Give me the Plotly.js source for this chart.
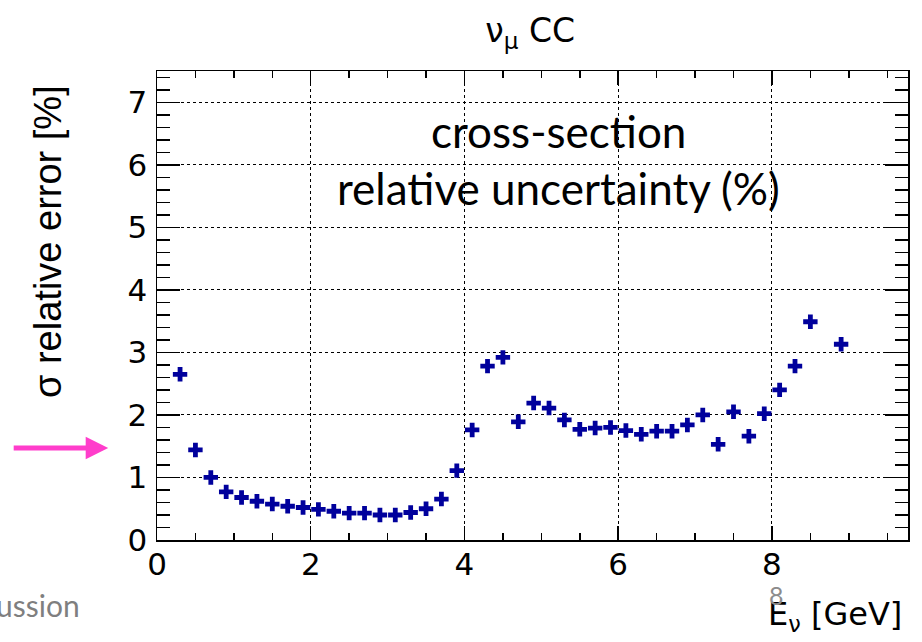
<!DOCTYPE html>
<html>
<head>
<meta charset="utf-8">
<script src="https://cdn.plot.ly/plotly-3.0.1.min.js"></script>
<style>html,body{margin:0;padding:0;background:#fff;}</style>
</head>
<body>
<div id="chart" style="width:922px;height:642px;"></div>
<script>
// Neutrino energy bin centres [GeV]
const energy = [0.3,0.5,0.7,0.9,1.1,1.3,1.5,1.7,1.9,2.1,2.3,2.5,2.7,2.9,3.1,3.3,3.5,3.7,3.9,
                4.1,4.3,4.5,4.7,4.9,5.1,5.3,5.5,5.7,5.9,6.1,6.3,6.5,6.7,6.9,7.1,7.3,7.5,7.7,7.9,
                8.1,8.3,8.5,8.9];
// sigma relative error [%]
const relError = [2.65,1.44,1.00,0.77,0.68,0.62,0.575,0.54,0.52,0.49,0.46,0.43,0.43,0.40,0.40,0.44,0.50,0.655,1.11,
                  1.76,2.78,2.92,1.89,2.19,2.11,1.92,1.77,1.79,1.80,1.75,1.69,1.74,1.74,1.84,2.00,1.53,2.05,1.66,2.02,
                  2.40,2.78,3.49,3.13];
const xTicks = [0,2,4,6,8];
const yTicks = [0,1,2,3,4,5,6,7];

const FONT = 'DejaVu Sans, Liberation Sans, Arial, sans-serif';
const FONT_TITLE = 'Liberation Sans, Arial, sans-serif';
const SLIDE = 'Lato, sans-serif';

const trace = {
  type: 'scatter', mode: 'markers',
  x: energy, y: relError,
  marker: {symbol: 'cross', size: 12, color: '#00009c', line: {width: 0}},
  hoverinfo: 'x+y'
};

const axisCommon = {
  showline: true, linecolor: '#000', linewidth: 1.5, mirror: 'allticks',
  ticks: 'inside', tickcolor: '#000', tickwidth: 1.5,
  showgrid: true, gridcolor: '#000', griddash: 'dot', gridwidth: 1,
  zeroline: false,
  tickfont: {family: FONT, size: 31, color: '#000'}
};

const layout = {
  width: 922, height: 642,
  margin: {l: 157, r: 14, t: 71, b: 102},
  paper_bgcolor: '#fff', plot_bgcolor: '#fff',
  showlegend: false,
  title: {text: 'ν<sub>μ</sub> CC', font: {family: FONT, size: 33, color: '#000'},
          x: 0.575, xanchor: 'center', y: 0.953, yanchor: 'middle', xref: 'container', yref: 'container'},
  xaxis: Object.assign({}, axisCommon, {
    range: [0, 9.77], tickvals: xTicks, ticktext: xTicks.map(String), ticklen: 14,
    ticklabelstandoff: -4,
    minor: {ticks: 'inside', dtick: 0.5, tick0: 0, ticklen: 7, tickcolor: '#000', tickwidth: 1.5, showgrid: false}
  }),
  yaxis: Object.assign({}, axisCommon, {
    range: [0, 7.5], tickvals: yTicks, ticktext: yTicks.map(String), ticklen: 23,
    ticklabelstandoff: 2,
    minor: {ticks: 'inside', dtick: 0.2, tick0: 0, ticklen: 13, tickcolor: '#000', tickwidth: 1.5, showgrid: false}
  }),
  annotations: [
    {text: 'σ relative error [%]', textangle: -90, xref: 'paper', yref: 'paper',
     x: -0.146, y: 0.974, xanchor: 'center', yanchor: 'top', showarrow: false,
     font: {family: FONT_TITLE, size: 38, color: '#000'}},
    {text: 'E<sub>ν</sub> [GeV]', xref: 'paper', yref: 'paper', x: 0.995, y: -0.162,
     xanchor: 'right', yanchor: 'middle', showarrow: false,
     font: {family: FONT, size: 32, color: '#000'}},
    {text: '8', xref: 'paper', yref: 'paper', x: 0.825, y: -0.118,
     xanchor: 'center', yanchor: 'middle', showarrow: false,
     font: {family: SLIDE, size: 25, color: '#8c8c8c'}},
    {text: 'ussion', xref: 'paper', yref: 'paper', x: -0.0999, y: -0.1386,
     xanchor: 'right', yanchor: 'middle', showarrow: false,
     font: {family: SLIDE, size: 30, color: '#7f7f7f'}},
    {text: 'cross-section', xref: 'paper', yref: 'paper', x: 0.534, y: 0.872,
     xanchor: 'center', yanchor: 'middle', showarrow: false,
     font: {family: SLIDE, size: 44, color: '#000'}},
    {text: 'relative uncertainty (%)', xref: 'paper', yref: 'paper', x: 0.534, y: 0.751,
     xanchor: 'center', yanchor: 'middle', showarrow: false,
     font: {family: SLIDE, size: 44, color: '#000'}},
    {text: '', xref: 'paper', yref: 'paper', x: -0.065, y: 0.196,
     ax: -96, ay: 0, axref: 'pixel', ayref: 'pixel', showarrow: true,
     arrowcolor: '#ff3dcb', arrowwidth: 5, arrowhead: 2, arrowsize: 0.9, standoff: 0}
  ]
};

Plotly.newPlot('chart', [trace], layout, {displayModeBar: false, staticPlot: true});
</script>
</body>
</html>
